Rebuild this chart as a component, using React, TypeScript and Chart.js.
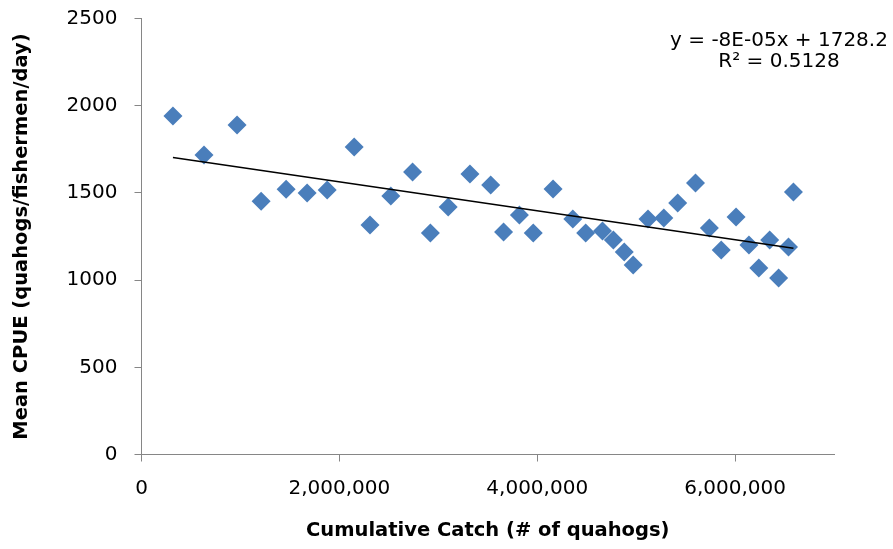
import React, { useEffect, useRef } from 'react';
import { Chart, registerables } from 'chart.js';

Chart.register(...registerables);

// Cumulative catch (# of quahogs)
const catchX = [
  318000, 632000, 966000, 1209000, 1462000, 1674000, 1877000, 2150000, 2310000, 2520000,
  2740000, 2920000, 3100000, 3320000, 3530000, 3660000, 3820000, 3960000, 4160000, 4360000,
  4490000, 4660000, 4770000, 4880000, 4970000, 5120000, 5280000, 5420000, 5600000, 5740000,
  5860000, 6010000, 6140000, 6240000, 6350000, 6440000, 6540000, 6590000,
];
// Mean CPUE (quahogs/fishermen/day)
const cpue = [
  1941, 1717, 1889, 1452, 1521, 1500, 1517, 1763, 1316, 1482,
  1620, 1270, 1419, 1608, 1545, 1276, 1373, 1270, 1522, 1350,
  1270, 1281, 1230, 1161, 1087, 1350, 1356, 1442, 1557, 1299,
  1172, 1362, 1201, 1069, 1230, 1012, 1190, 1505,
];
const xTicks = [0, 2000000, 4000000, 6000000];
const yTicks = [0, 500, 1000, 1500, 2000, 2500];
const equationLines = ['y = -8E-05x + 1728.2', 'R² = 0.5128'];

const FONT = "'DejaVu Sans'";
const AXIS = '#868686';
const BLUE = '#4a7ebb';

export default function App() {
  const ref = useRef<HTMLCanvasElement>(null);

  useEffect(() => {
    document.body.style.margin = '0';
    const n = catchX.length;
    const mx = catchX.reduce((a, b) => a + b, 0) / n;
    const my = cpue.reduce((a, b) => a + b, 0) / n;
    let sxy = 0, sxx = 0;
    for (let i = 0; i < n; i++) {
      sxy += (catchX[i] - mx) * (cpue[i] - my);
      sxx += (catchX[i] - mx) ** 2;
    }
    const slope = sxy / sxx;
    const intercept = my - slope * mx;
    const xmin = Math.min(...catchX);
    const xmax = Math.max(...catchX);

    const eqPlugin = {
      id: 'eq',
      afterDraw(chart: any) {
        const ctx = chart.ctx;
        ctx.save();
        ctx.font = `20px ${FONT}`;
        ctx.fillStyle = '#000';
        ctx.textAlign = 'center';
        ctx.textBaseline = 'middle';
        const cx = chart.chartArea.right - 55;
        ctx.fillText(equationLines[0], cx, chart.chartArea.top + 22);
        ctx.fillText(equationLines[1], cx, chart.chartArea.top + 43);
        ctx.restore();
      },
    };

    const chart = new Chart(ref.current!, {
      type: 'scatter',
      data: {
        datasets: [
          {
            label: 'Trend',
            data: [
              { x: xmin, y: intercept + slope * xmin },
              { x: xmax, y: intercept + slope * xmax },
            ],
            showLine: true,
            borderColor: '#000',
            borderWidth: 1.5,
            pointRadius: 0,
            order: 0,
          } as any,
          {
            label: 'CPUE',
            data: catchX.map((x, i) => ({ x, y: cpue[i] })),
            pointStyle: 'rectRot',
            pointRadius: 9.5,
            backgroundColor: BLUE,
            borderColor: BLUE,
            borderWidth: 0,
            order: 1,
          } as any,
        ],
      },
      options: {
        responsive: false,
        animation: false,
        layout: { padding: { top: 18.5, right: 59, left: 0, bottom: 0 } },
        plugins: { legend: { display: false }, tooltip: { enabled: false } },
        scales: {
          x: {
            type: 'linear',
            min: 0,
            max: 7000000,
            afterBuildTicks: (s: any) => {
              s.ticks = xTicks.map((v) => ({ value: v }));
            },
            afterFit: (s: any) => {
              s.height = 94.5;
            },
            ticks: {
              font: { family: FONT, size: 20 },
              color: '#000',
              padding: 15,
              maxRotation: 0,
              callback: (v: any) => Number(v).toLocaleString('en-US'),
            },
            grid: { drawOnChartArea: false, drawTicks: true, tickLength: 7, color: AXIS },
            border: { display: true, color: AXIS, width: 1 },
            title: {
              display: true,
              text: 'Cumulative Catch (# of quahogs)',
              font: { family: FONT, size: 19.5, weight: 'bold' },
              color: '#000',
              padding: { top: 0, bottom: 6 },
            },
          },
          y: {
            type: 'linear',
            min: 0,
            max: 2500,
            afterBuildTicks: (s: any) => {
              s.ticks = yTicks.map((v) => ({ value: v }));
            },
            afterFit: (s: any) => {
              s.width = 141.5;
              s.paddingTop = 10;
              s.paddingBottom = 10;
            },
            ticks: {
              font: { family: FONT, size: 20 },
              color: '#000',
              padding: 17,
              callback: (v: any) => String(v),
            },
            grid: { drawOnChartArea: false, drawTicks: true, tickLength: 7, color: AXIS },
            border: { display: true, color: AXIS, width: 1 },
            title: {
              display: true,
              text: 'Mean CPUE (quahogs/fishermen/day)',
              font: { family: FONT, size: 19.5, weight: 'bold' },
              color: '#000',
              padding: { top: 10, bottom: 0 },
            },
          },
        },
      },
      plugins: [eqPlugin],
    });
    return () => chart.destroy();
  }, []);

  return <canvas ref={ref} width={893} height={549} style={{ display: 'block' }} />;
}
